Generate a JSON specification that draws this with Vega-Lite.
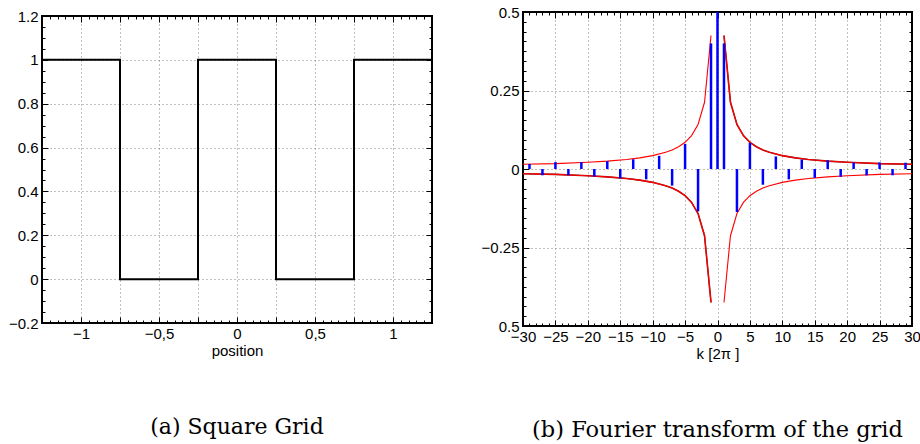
{
  "$schema": "https://vega.github.io/schema/vega-lite/v6.json",
  "padding": {"left": 7, "top": 4, "right": 0, "bottom": 0},
  "spacing": 43,
  "background": "white",
  "config": {
    "view": {"stroke": "black", "strokeWidth": 2},
    "axis": {
      "labelFont": "Liberation Sans", "labelFontSize": 15, "labelColor": "black",
      "titleFont": "Liberation Sans", "titleFontSize": 15, "titleFontWeight": "normal", "titleColor": "black",
      "domain": false, "tickColor": "black", "tickWidth": 1,
      "gridColor": "#808080", "gridDash": [1, 3], "gridWidth": 1,
      "labelOverlap": false
    },
    "title": {"font": "DejaVu Serif", "fontSize": 22, "fontWeight": "normal", "color": "black", "anchor": "middle"}
  },
  "datasets": {
    "sq": [
      {"i": 0, "x": -1.25, "y": 1}, {"i": 1, "x": -0.75, "y": 1}, {"i": 2, "x": -0.75, "y": 0},
      {"i": 3, "x": -0.25, "y": 0}, {"i": 4, "x": -0.25, "y": 1}, {"i": 5, "x": 0.25, "y": 1},
      {"i": 6, "x": 0.25, "y": 0}, {"i": 7, "x": 0.75, "y": 0}, {"i": 8, "x": 0.75, "y": 1},
      {"i": 9, "x": 1.25, "y": 1}
    ],
    "stems": [
      {"k": -29, "v": 0.016}, {"k": -27, "v": -0.02}, {"k": -25, "v": 0.022}, {"k": -23, "v": -0.02},
      {"k": -21, "v": 0.022}, {"k": -19, "v": -0.024}, {"k": -17, "v": 0.025}, {"k": -15, "v": -0.03},
      {"k": -13, "v": 0.031}, {"k": -11, "v": -0.033}, {"k": -9, "v": 0.042}, {"k": -7, "v": -0.053},
      {"k": -5, "v": 0.08}, {"k": -3, "v": -0.135}, {"k": -1, "v": 0.4}, {"k": 0, "v": 0.5},
      {"k": 1, "v": 0.4}, {"k": 3, "v": -0.137}, {"k": 5, "v": 0.083}, {"k": 7, "v": -0.05},
      {"k": 9, "v": 0.04}, {"k": 11, "v": -0.033}, {"k": 13, "v": 0.03}, {"k": 15, "v": -0.028},
      {"k": 17, "v": 0.028}, {"k": 19, "v": -0.025}, {"k": 21, "v": 0.021}, {"k": 23, "v": -0.02},
      {"k": 25, "v": 0.021}, {"k": 27, "v": -0.02}, {"k": 29, "v": 0.02}
    ],
    "env": [
      {"seg": "ur", "dark": true, "k": 1, "v": 0.425}, {"seg": "ur", "dark": true, "k": 2, "v": 0.2125},
      {"seg": "ur", "dark": true, "k": 3, "v": 0.1417}, {"seg": "ur", "dark": true, "k": 4, "v": 0.1063},
      {"seg": "ur", "dark": true, "k": 5, "v": 0.085}, {"seg": "ur", "dark": true, "k": 6, "v": 0.0708},
      {"seg": "ur", "dark": true, "k": 7, "v": 0.0607}, {"seg": "ur", "dark": true, "k": 8, "v": 0.0531},
      {"seg": "ur", "dark": true, "k": 10, "v": 0.0425}, {"seg": "ur", "dark": true, "k": 12, "v": 0.0354},
      {"seg": "ur", "dark": true, "k": 14, "v": 0.0304}, {"seg": "ur", "dark": true, "k": 17, "v": 0.025},
      {"seg": "ur", "dark": true, "k": 20, "v": 0.0213}, {"seg": "ur", "dark": true, "k": 25, "v": 0.017},
      {"seg": "ur", "dark": true, "k": 30, "v": 0.015},
      {"seg": "ll", "dark": true, "k": -1, "v": -0.425}, {"seg": "ll", "dark": true, "k": -2, "v": -0.2125},
      {"seg": "ll", "dark": true, "k": -3, "v": -0.1417}, {"seg": "ll", "dark": true, "k": -4, "v": -0.1063},
      {"seg": "ll", "dark": true, "k": -5, "v": -0.085}, {"seg": "ll", "dark": true, "k": -6, "v": -0.0708},
      {"seg": "ll", "dark": true, "k": -7, "v": -0.0607}, {"seg": "ll", "dark": true, "k": -8, "v": -0.0531},
      {"seg": "ll", "dark": true, "k": -10, "v": -0.0425}, {"seg": "ll", "dark": true, "k": -12, "v": -0.0354},
      {"seg": "ll", "dark": true, "k": -14, "v": -0.0304}, {"seg": "ll", "dark": true, "k": -17, "v": -0.025},
      {"seg": "ll", "dark": true, "k": -20, "v": -0.0213}, {"seg": "ll", "dark": true, "k": -25, "v": -0.017},
      {"seg": "ll", "dark": true, "k": -30, "v": -0.015},
      {"seg": "ul", "dark": false, "k": -1, "v": 0.425}, {"seg": "ul", "dark": false, "k": -2, "v": 0.2125},
      {"seg": "ul", "dark": false, "k": -3, "v": 0.1417}, {"seg": "ul", "dark": false, "k": -4, "v": 0.1063},
      {"seg": "ul", "dark": false, "k": -5, "v": 0.085}, {"seg": "ul", "dark": false, "k": -6, "v": 0.0708},
      {"seg": "ul", "dark": false, "k": -7, "v": 0.0607}, {"seg": "ul", "dark": false, "k": -8, "v": 0.0531},
      {"seg": "ul", "dark": false, "k": -10, "v": 0.0425}, {"seg": "ul", "dark": false, "k": -12, "v": 0.0354},
      {"seg": "ul", "dark": false, "k": -14, "v": 0.0304}, {"seg": "ul", "dark": false, "k": -17, "v": 0.025},
      {"seg": "ul", "dark": false, "k": -20, "v": 0.0213}, {"seg": "ul", "dark": false, "k": -25, "v": 0.017},
      {"seg": "ul", "dark": false, "k": -30, "v": 0.015},
      {"seg": "lr", "dark": false, "k": 1, "v": -0.425}, {"seg": "lr", "dark": false, "k": 2, "v": -0.2125},
      {"seg": "lr", "dark": false, "k": 3, "v": -0.1417}, {"seg": "lr", "dark": false, "k": 4, "v": -0.1063},
      {"seg": "lr", "dark": false, "k": 5, "v": -0.085}, {"seg": "lr", "dark": false, "k": 6, "v": -0.0708},
      {"seg": "lr", "dark": false, "k": 7, "v": -0.0607}, {"seg": "lr", "dark": false, "k": 8, "v": -0.0531},
      {"seg": "lr", "dark": false, "k": 10, "v": -0.0425}, {"seg": "lr", "dark": false, "k": 12, "v": -0.0354},
      {"seg": "lr", "dark": false, "k": 14, "v": -0.0304}, {"seg": "lr", "dark": false, "k": 17, "v": -0.025},
      {"seg": "lr", "dark": false, "k": 20, "v": -0.0213}, {"seg": "lr", "dark": false, "k": 25, "v": -0.017},
      {"seg": "lr", "dark": false, "k": 30, "v": -0.015}
    ]
  },
  "hconcat": [
    {"spacing": -9, "vconcat": [
    {
      "width": 390, "height": 1,
      "data": {"values": [{"s": 0}]},
      "mark": {"type": "point", "size": 0, "opacity": 0},
      "view": {"stroke": null}
    },
    {
      "width": 390, "height": 307,
      "title": {"text": "(a) Square Grid", "orient": "bottom", "offset": 59},
      "data": {"name": "sq"},
      "resolve": {"axis": {"x": "independent", "y": "independent"}},
      "layer": [
        {
          "mark": {"type": "line", "color": "black", "strokeWidth": 2},
          "encoding": {
            "x": {"field": "x", "type": "quantitative", "scale": {"domain": [-1.25, 1.25], "nice": false, "zero": false},
                  "axis": {"values": [-1, -0.5, 0, 0.5, 1], "labelExpr": "replace(format(datum.value, '~g'), '.', ',')", "ticks": false, "grid": false, "title": "position", "labelFlush": false, "labelPadding": 3, "titlePadding": 2}},
            "y": {"field": "y", "type": "quantitative", "scale": {"domain": [-0.2, 1.2], "nice": false, "zero": false},
                  "axis": {"values": [-0.2, 0, 0.2, 0.4, 0.6, 0.8, 1, 1.2], "format": "~g", "ticks": false, "grid": false, "title": null, "labelPadding": 4}},
            "order": {"field": "i", "type": "quantitative"}
          }
        },
        {
          "mark": {"type": "point", "opacity": 0},
          "encoding": {
            "x": {"field": "x", "type": "quantitative", "scale": {"domain": [-1.25, 1.25], "nice": false, "zero": false},
                  "axis": {"orient": "bottom", "labels": false, "title": null, "grid": false, "tickCount": 50, "tickSize": -3, "minExtent": 0}},
            "y": {"field": "y", "type": "quantitative", "scale": {"domain": [-0.2, 1.2], "nice": false, "zero": false},
                  "axis": {"orient": "left", "labels": false, "title": null, "grid": false, "tickCount": 28, "tickSize": -3, "minExtent": 0}}
          }
        },
        {
          "mark": {"type": "point", "opacity": 0},
          "encoding": {
            "x": {"field": "x", "type": "quantitative", "scale": {"domain": [-1.25, 1.25], "nice": false, "zero": false},
                  "axis": {"orient": "bottom", "labels": false, "title": null, "grid": true, "values": [-1, -0.75, -0.5, -0.25, 0, 0.25, 0.5, 0.75, 1], "tickSize": -6, "minExtent": 0}},
            "y": {"field": "y", "type": "quantitative", "scale": {"domain": [-0.2, 1.2], "nice": false, "zero": false},
                  "axis": {"orient": "left", "labels": false, "title": null, "grid": true, "values": [0, 0.2, 0.4, 0.6, 0.8, 1], "tickSize": -6, "minExtent": 0}}
          }
        },
        {
          "mark": {"type": "point", "opacity": 0},
          "encoding": {
            "x": {"field": "x", "type": "quantitative", "scale": {"domain": [-1.25, 1.25], "nice": false, "zero": false},
                  "axis": {"orient": "top", "labels": false, "title": null, "grid": false, "tickCount": 50, "tickSize": -3, "minExtent": 11}},
            "y": {"field": "y", "type": "quantitative", "scale": {"domain": [-0.2, 1.2], "nice": false, "zero": false},
                  "axis": {"orient": "right", "labels": false, "title": null, "grid": false, "tickCount": 28, "tickSize": -3, "minExtent": 0}}
          }
        },
        {
          "mark": {"type": "point", "opacity": 0},
          "encoding": {
            "x": {"field": "x", "type": "quantitative", "scale": {"domain": [-1.25, 1.25], "nice": false, "zero": false},
                  "axis": {"orient": "top", "labels": false, "title": null, "grid": false, "values": [-1, -0.75, -0.5, -0.25, 0, 0.25, 0.5, 0.75, 1], "tickSize": -6, "minExtent": 0}},
            "y": {"field": "y", "type": "quantitative", "scale": {"domain": [-0.2, 1.2], "nice": false, "zero": false},
                  "axis": {"orient": "right", "labels": false, "title": null, "grid": false, "values": [-0.2, 0, 0.2, 0.4, 0.6, 0.8, 1, 1.2], "tickSize": -6, "minExtent": 0}}
          }
        }
      ]
    }
    ]},
    {
      "width": 389, "height": 314,
      "title": {"text": "(b) Fourier transform of the grid", "orient": "bottom", "offset": 58, "fontSize": 22.5},
      "resolve": {"axis": {"x": "independent", "y": "independent"}},
      "layer": [
        {
          "data": {"name": "env"},
          "transform": [{"filter": "datum.dark"}],
          "mark": {"type": "line", "color": "#8a1515", "strokeWidth": 1.6},
          "encoding": {
            "x": {"field": "k", "type": "quantitative", "scale": {"domain": [-30, 30], "nice": false, "zero": false},
                  "axis": {"values": [-30, -25, -20, -15, -10, -5, 0, 5, 10, 15, 20, 25, 30], "format": "~g", "ticks": false, "grid": false, "title": "k [2π ]", "labelFlush": false, "labelPadding": 3, "titlePadding": 2}},
            "y": {"field": "v", "type": "quantitative", "scale": {"domain": [-0.5, 0.5], "nice": false, "zero": false},
                  "axis": {"values": [-0.5, -0.25, 0, 0.25, 0.5], "labelExpr": "datum.value == -0.5 ? '0.5' : format(datum.value, '~g')", "ticks": false, "grid": false, "title": null, "labelPadding": 4}},
            "detail": {"field": "seg", "type": "nominal"}
          }
        },
        {
          "data": {"name": "env"},
          "mark": {"type": "line", "color": "#ff0000", "strokeWidth": 1.1},
          "encoding": {
            "x": {"field": "k", "type": "quantitative", "scale": {"domain": [-30, 30], "nice": false, "zero": false},
                  "axis": {"orient": "bottom", "labels": false, "title": null, "grid": false, "tickCount": 60, "tickSize": -3, "minExtent": 0}},
            "y": {"field": "v", "type": "quantitative", "scale": {"domain": [-0.5, 0.5], "nice": false, "zero": false},
                  "axis": {"orient": "left", "labels": false, "title": null, "grid": false, "values": [-0.5, -0.46875, -0.4375, -0.40625, -0.375, -0.34375, -0.3125, -0.28125, -0.25, -0.21875, -0.1875, -0.15625, -0.125, -0.09375, -0.0625, -0.03125, 0, 0.03125, 0.0625, 0.09375, 0.125, 0.15625, 0.1875, 0.21875, 0.25, 0.28125, 0.3125, 0.34375, 0.375, 0.40625, 0.4375, 0.46875, 0.5], "tickSize": -3, "minExtent": 0}},
            "detail": {"field": "seg", "type": "nominal"}
          }
        },
        {
          "data": {"name": "stems"},
          "mark": {"type": "rule", "color": "#0000ff", "strokeWidth": 2.5},
          "encoding": {
            "x": {"field": "k", "type": "quantitative", "scale": {"domain": [-30, 30], "nice": false, "zero": false},
                  "axis": {"orient": "bottom", "labels": false, "title": null, "grid": true, "values": [-25, -20, -15, -10, -5, 0, 5, 10, 15, 20, 25], "tickSize": -6, "minExtent": 0}},
            "y": {"field": "v", "type": "quantitative", "scale": {"domain": [-0.5, 0.5], "nice": false, "zero": false},
                  "axis": {"orient": "left", "labels": false, "title": null, "grid": true, "values": [-0.25, 0, 0.25], "tickSize": -6, "minExtent": 0}},
            "y2": {"datum": 0}
          }
        },
        {
          "data": {"name": "stems"},
          "mark": {"type": "point", "opacity": 0},
          "encoding": {
            "x": {"field": "k", "type": "quantitative", "scale": {"domain": [-30, 30], "nice": false, "zero": false},
                  "axis": {"orient": "top", "labels": false, "title": null, "grid": false, "tickCount": 60, "tickSize": -3, "minExtent": 0}},
            "y": {"field": "v", "type": "quantitative", "scale": {"domain": [-0.5, 0.5], "nice": false, "zero": false},
                  "axis": {"orient": "right", "labels": false, "title": null, "grid": false, "values": [-0.5, -0.46875, -0.4375, -0.40625, -0.375, -0.34375, -0.3125, -0.28125, -0.25, -0.21875, -0.1875, -0.15625, -0.125, -0.09375, -0.0625, -0.03125, 0, 0.03125, 0.0625, 0.09375, 0.125, 0.15625, 0.1875, 0.21875, 0.25, 0.28125, 0.3125, 0.34375, 0.375, 0.40625, 0.4375, 0.46875, 0.5], "tickSize": -3, "minExtent": 0}}
          }
        },
        {
          "data": {"name": "stems"},
          "mark": {"type": "point", "opacity": 0},
          "encoding": {
            "x": {"field": "k", "type": "quantitative", "scale": {"domain": [-30, 30], "nice": false, "zero": false},
                  "axis": {"orient": "top", "labels": false, "title": null, "grid": false, "values": [-30, -25, -20, -15, -10, -5, 0, 5, 10, 15, 20, 25, 30], "tickSize": -6, "minExtent": 0}},
            "y": {"field": "v", "type": "quantitative", "scale": {"domain": [-0.5, 0.5], "nice": false, "zero": false},
                  "axis": {"orient": "right", "labels": false, "title": null, "grid": false, "values": [-0.5, -0.25, 0, 0.25, 0.5], "tickSize": -6, "minExtent": 0}}
          }
        }
      ]
    }
  ]
}
